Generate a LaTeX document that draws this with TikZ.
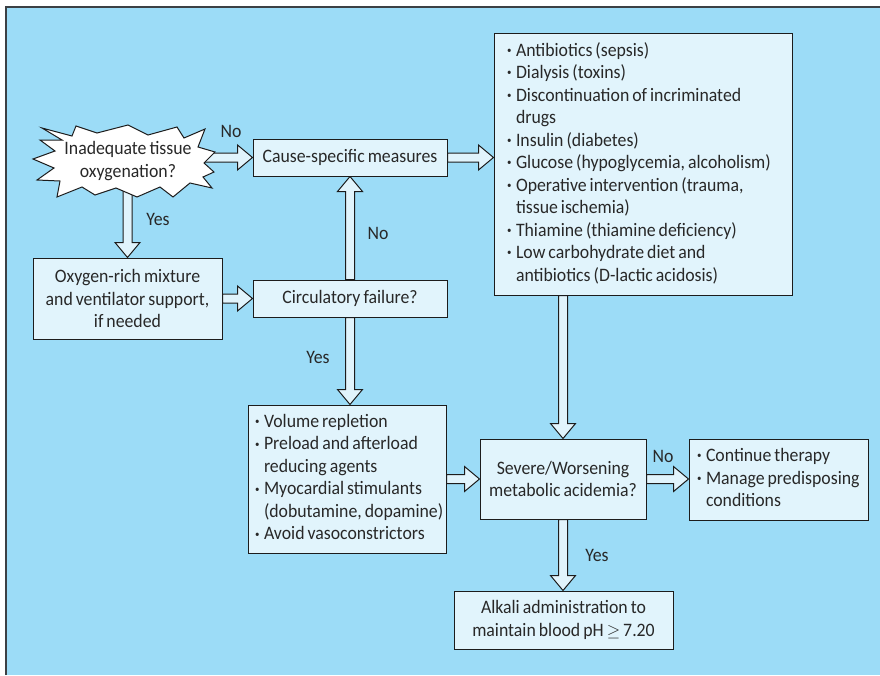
\documentclass[tikz,border=0pt]{standalone}
\usepackage{fontspec}
\setmainfont{Carlito}[FakeStretch=0.935, WordSpace=0.75]
\usepackage{graphicx}
\usetikzlibrary{calc}

\definecolor{panelblue}{RGB}{156,220,247}
\definecolor{boxfill}{RGB}{225,244,252}
\definecolor{ink}{RGB}{40,40,40}
\definecolor{edge}{RGB}{28,28,28}
\definecolor{frameline}{RGB}{60,64,68}

\pgfdeclarelayer{backdrop}
\pgfdeclarelayer{links}
\pgfsetlayers{backdrop,links,main}

% small bullet and list lines with hanging indent
\newcommand\bul{\raisebox{0.3ex}{\scalebox{0.5}{\textbullet}}}
\newcommand\bl[1]{\makebox[9pt][l]{\bul}#1}
\newcommand\cl[1]{\hspace*{9pt}#1}
% left-aligned list block of fixed width
\newcommand\blist[2]{\makebox[#1][l]{\begin{tabular}{@{}l@{}}#2\end{tabular}}}

% hollow block arrow from #1 to #2
\newcommand\hollowarrow[2]{%
  \coordinate (hbase) at ($(#2)!15pt!(#1)$);
  \draw[hollow] ($(#1)!4.5pt!90:(#2)$) -- ($(hbase)!4.5pt!90:(#2)$)
    -- ($(hbase)!12.5pt!90:(#2)$) -- (#2) -- ($(hbase)!12.5pt!-90:(#2)$)
    -- ($(hbase)!4.5pt!-90:(#2)$) -- ($(#1)!4.5pt!-90:(#2)$) -- cycle;}

\tikzset{
  txt/.style={font=\fontsize{19}{22.5}\selectfont, text=ink},
  box/.style={txt, draw=edge, fill=boxfill, line width=1pt, inner sep=0pt, align=center},
  listbox/.style={txt, draw=edge, fill=boxfill, line width=1pt, inner sep=0pt},
  lbl/.style={txt, inner sep=0pt},
  hollow/.style={draw=edge, fill=boxfill, line width=1pt, line join=miter},
}

\begin{document}
\begin{tikzpicture}[x=1pt, y=-1pt]
\useasboundingbox (0,0) rectangle (880,675);

\begin{pgfonlayer}{backdrop}
  \fill[white] (0,0) rectangle (880,675);
  \fill[panelblue] (6,7) rectangle (880,675);
  \draw[frameline, line width=2pt] (6,675) -- (6,7) -- (880,7);
\end{pgfonlayer}

% starburst outline
\draw[edge, fill=white, line width=1pt, line join=miter]
  (33,159) -- (55,151) -- (40,140) -- (62,140) -- (42,128) -- (72,136)
  -- (76,126) -- (97,133) -- (128,125) -- (148,135) -- (177,127) -- (184,138)
  -- (205,129) -- (198,147) -- (215,152) -- (204,163) -- (214,172) -- (203,177)
  -- (212,188) -- (190,183) -- (173,197) -- (160,187) -- (137,197) -- (116,188)
  -- (95,195) -- (82,187) -- (57,197) -- (60,181) -- (37,180) -- (54,168) -- cycle;

\node[txt, align=center, minimum width=154pt, minimum height=58pt, inner sep=0pt]
  (star) at (128,161) {Inadequate tissue\\oxygenation?};

\node[box, minimum width=194pt, minimum height=37pt] (cause) at (350,157.5)
  {Cause-specific measures};

\node[listbox, minimum width=298pt, minimum height=262pt] (abx) at (643,164)
  {\blist{272pt}{\bl{Antibiotics (sepsis)}\\
   \bl{Dialysis (toxins)}\\
   \bl{Discontinuation of incriminated}\\
   \cl{drugs}\\
   \bl{Insulin (diabetes)}\\
   \bl{Glucose (hypoglycemia, alcoholism)}\\
   \bl{Operative intervention (trauma,}\\
   \cl{tissue ischemia)}\\
   \bl{Thiamine (thiamine deficiency)}\\
   \bl{Low carbohydrate diet and}\\
   \cl{antibiotics (D-lactic acidosis)}}};

\node[box, minimum width=189pt, minimum height=81pt] (oxy) at (127.5,298.5)
  {Oxygen-rich mixture\\and ventilator support,\\if needed};

\node[box, minimum width=194pt, minimum height=37pt] (circ) at (350,298.5)
  {Circulatory failure?};

\node[listbox, minimum width=198pt, minimum height=148pt] (vol) at (347,479)
  {\blist{184pt}{\bl{Volume repletion}\\
   \bl{Preload and afterload}\\
   \cl{reducing agents}\\
   \bl{Myocardial stimulants}\\
   \cl{(dobutamine, dopamine)}\\
   \bl{Avoid vasoconstrictors}}};

\node[box, minimum width=166pt, minimum height=80pt] (sev) at (563,479)
  {Severe/Worsening\\metabolic acidemia?};

\node[listbox, minimum width=179pt, minimum height=81pt] (cont) at (778.5,479.5)
  {\blist{163pt}{\bl{Continue therapy}\\
   \bl{Manage predisposing}\\
   \cl{conditions}}};

\node[box, minimum width=219pt, minimum height=58pt] (alk) at (563.5,620)
  {Alkali administration to\\maintain blood pH $\geq$ 7.20};

% branch labels
\node[lbl] (noA) at (231,131) {No};
\node[lbl] (yesA) at (158,219) {Yes};
\node[lbl] (noB) at (378,233) {No};
\node[lbl] (yesB) at (318,357) {Yes};
\node[lbl] (noC) at (663,456) {No};
\node[lbl] (yesC) at (597,555) {Yes};

% connectors
\begin{pgfonlayer}{links}
  \coordinate (starR) at (star.east |- cause.west);
  \hollowarrow{starR}{cause.west}
  \coordinate (abxL) at (abx.west |- cause.east);
  \hollowarrow{cause.east}{abxL}
  \coordinate (starB) at (star.south -| oxy.north);
  \hollowarrow{starB}{oxy.north}
  \hollowarrow{oxy.east}{circ.west}
  \hollowarrow{circ.north}{cause.south}
  \coordinate (volT) at (vol.north -| circ.south);
  \hollowarrow{circ.south}{volT}
  \coordinate (volR) at (vol.east |- sev.west);
  \hollowarrow{volR}{sev.west}
  \coordinate (abxB) at (abx.south -| sev.north);
  \hollowarrow{abxB}{sev.north}
  \coordinate (contL) at (cont.west |- sev.east);
  \hollowarrow{sev.east}{contL}
  \coordinate (alkT) at (alk.north -| sev.south);
  \hollowarrow{sev.south}{alkT}
\end{pgfonlayer}
\end{tikzpicture}
\end{document}
